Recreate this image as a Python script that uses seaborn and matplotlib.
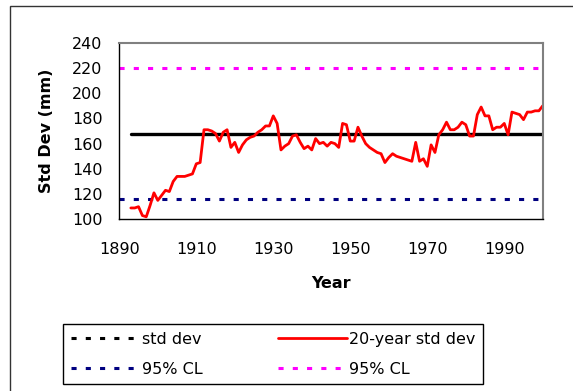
import matplotlib
matplotlib.use("Agg")
import matplotlib.pyplot as plt
from matplotlib.lines import Line2D
from matplotlib.patches import Rectangle
import seaborn as sns
import pandas as pd
import numpy as np

# values
years = list(range(1893, 2001))
std_20yr = [
    109, 109, 110, 103, 102, 111, 121, 115, 119, 123,   # 1893-1902
    122, 130, 134, 134, 134, 135, 136, 144, 145, 171,   # 1903-1912
    171, 170, 168, 162, 169, 171, 157, 161, 153, 159,   # 1913-1922
    163, 165, 166, 169, 171, 174, 174, 182, 176, 155,   # 1923-1932
    158, 160, 166, 167, 161, 156, 158, 155, 164, 160,   # 1933-1942
    161, 158, 161, 160, 157, 176, 175, 162, 162, 173,   # 1943-1952
    166, 160, 157, 155, 153, 152, 145, 149, 152, 150,   # 1953-1962
    149, 148, 147, 146, 161, 146, 148, 142, 159, 153,   # 1963-1972
    167, 171, 177, 171, 171, 173, 177, 175, 166, 166,   # 1973-1982
    183, 189, 182, 182, 171, 173, 173, 176, 167, 185,   # 1983-1992
    184, 183, 179, 185, 185, 186, 186, 190,             # 1993-2000
]
std_all = 168
cl_low = 116
cl_high = 220

df = pd.DataFrame({"Year": years, "std20": std_20yr})
df["std"] = std_all

sns.set_style("white")
plt.rcParams["font.family"] = ["DejaVu Sans"]
plt.rcParams["font.size"] = 11.5
for key in ["text.color", "axes.labelcolor", "xtick.color", "ytick.color"]:
    plt.rcParams[key] = "black"

fig = plt.figure(figsize=(5.73, 3.91), dpi=100)
ax = fig.add_axes([0.2082, 0.4391, 0.739, 0.4517])

# confidence limits span the whole axis
dash = (1.67, 3.0)
ax.axhline(cl_low, color="#000080", lw=2.2, dashes=dash)
ax.axhline(cl_high, color="#FF00FF", lw=2.2, dashes=dash)

# long-term std dev and the moving 20-year std dev
sns.lineplot(data=df, x="Year", y="std", color="black", lw=2.4, ax=ax)
sns.lineplot(data=df, x="Year", y="std20", color="#FF0000", lw=2.0, ax=ax)

ax.set_xlim(1890, 2000)
ax.set_ylim(100, 240)
ax.set_xticks(range(1890, 2000, 20))
ax.set_yticks(range(100, 241, 20))
ax.tick_params(axis="x", direction="in", length=5, width=1, pad=16, labelsize=11.5)
ax.tick_params(axis="y", direction="in", length=5, width=1, pad=12, labelsize=11.5)

for s in ["left", "bottom"]:
    ax.spines[s].set_color("black")
    ax.spines[s].set_linewidth(1)
for s in ["top", "right"]:
    ax.spines[s].set_color("#808080")
    ax.spines[s].set_linewidth(1.5)

ax.set_xlabel("Year", fontweight="bold", fontsize=11.5, va="center")
ax.set_ylabel("Std Dev (mm)", fontweight="bold", fontsize=11.5, va="center")
ax.xaxis.set_label_coords(0.5, -0.361)
ax.yaxis.set_label_coords(-0.171, 0.5)

handles = [
    Line2D([], [], color="black", lw=2.2, dashes=dash),
    Line2D([], [], color="#000080", lw=2.2, dashes=dash),
    Line2D([], [], color="#FF0000", lw=2.0),
    Line2D([], [], color="#FF00FF", lw=2.2, dashes=dash),
]
labels = ["std dev", "95% CL", "20-year std dev", "95% CL"]
leg = fig.legend(handles, labels, ncol=2, loc="center", mode="expand",
                 bbox_to_anchor=(0.1105, 0.0128, 0.7319, 0.1629),
                 borderaxespad=0, fontsize=11.5, handlelength=4.3,
                 handletextpad=0.15, labelspacing=0.95, borderpad=0.45,
                 columnspacing=1.0, fancybox=False, framealpha=1,
                 edgecolor="black")
leg.get_frame().set_linewidth(1)

# outer chart frame
fig.patches.append(Rectangle((10 / 573, -0.1), 1.0, 1.1 - 6 / 391,
                             transform=fig.transFigure, fill=False,
                             edgecolor="#333333", lw=1))

fig.savefig("out.png", dpi=100)
